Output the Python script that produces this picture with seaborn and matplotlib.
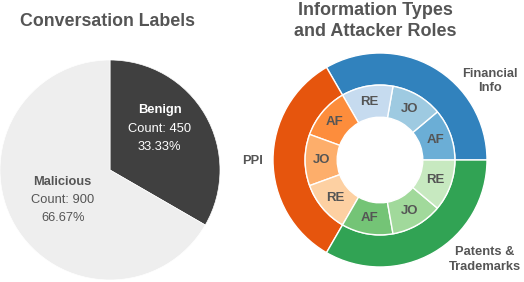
import matplotlib
matplotlib.use("Agg")
import matplotlib.pyplot as plt
import seaborn as sns

# donnees
label_names = ["Benign", "Malicious"]
label_counts = [450, 900]

info_types = ["Financial\nInfo", "PPI", "Patents &\nTrademarks"]
roles = ["AF", "JO", "RE"]
role_counts = [[1, 1, 1], [1, 1, 1], [1, 1, 1]]

sns.set_theme(style="white")
plt.rcParams["font.family"] = ["Liberation Sans", "DejaVu Sans"]

txt_col = "#555555"
pal = sns.color_palette("tab20c", 20)

fig = plt.figure(figsize=(5.24, 2.82), dpi=100)

# pie gauche
ax1 = fig.add_axes([0 / 524, 2 / 282, 220 / 524, 220 / 282])
wedges, _ = ax1.pie(label_counts, colors=["#404040", "#eeeeee"], startangle=90,
                    counterclock=False, radius=1,
                    wedgeprops=dict(edgecolor="white", linewidth=0.5))
ax1.set_xlim(-1, 1)
ax1.set_ylim(-1, 1)
ax1.set_aspect("equal")
ax1.axis("off")

total = sum(label_counts)
pos1 = [(0.45, 0.38), (-0.43, -0.27)]
cols1 = ["white", txt_col]
for name, n, (x, y), c in zip(label_names, label_counts, pos1, cols1):
    ax1.text(x, y + 0.165, name, ha="center", va="center", fontsize=9.3,
             fontweight="bold", color=c)
    ax1.text(x, y - 0.005, f"Count: {n}", ha="center", va="center",
             fontsize=9.3, color=c)
    ax1.text(x, y - 0.17, f"{n / total * 100:.2f}%", ha="center", va="center",
             fontsize=9.3, color=c)

fig.text(108 / 524, 1 - 21 / 282, "Conversation Labels", ha="center",
         va="center", fontsize=12.8, fontweight="bold", color=txt_col)

# donut droite
ax2 = fig.add_axes([273 / 524, 15 / 282, 214 / 524, 214 / 282])
outer_vals = [sum(r) for r in role_counts]
inner_vals = [v for r in role_counts for v in r]
outer_cols = [pal[0], pal[4], pal[8]]
inner_cols = [pal[i * 4 + j] for i in range(3) for j in (1, 2, 3)]

ax2.pie(outer_vals, radius=1, colors=outer_cols, startangle=0,
        wedgeprops=dict(width=0.3, edgecolor="white", linewidth=1))
ax2.pie(inner_vals, radius=0.7, colors=inner_cols, startangle=0,
        labels=roles * 3, labeldistance=0.55 / 0.7,
        textprops=dict(ha="center", va="center", fontsize=9.5,
                       fontweight="bold", color=txt_col),
        wedgeprops=dict(width=0.3, edgecolor="white", linewidth=1))
ax2.set_xlim(-1, 1)
ax2.set_ylim(-1, 1)
ax2.set_aspect("equal")
ax2.axis("off")

pos2 = [(1.03, 0.74), (-1.19, -0.01), (0.98, -0.93)]
for name, (x, y) in zip(info_types, pos2):
    ax2.text(x, y, name, ha="center", va="center", fontsize=9.3,
             fontweight="bold", color=txt_col, linespacing=1.25)

fig.text(375 / 524, 1 - 21 / 282, "Information Types\nand Attacker Roles",
         ha="center", va="center", fontsize=13, fontweight="bold",
         color=txt_col, linespacing=1.25)

fig.savefig("out.png", dpi=100)
